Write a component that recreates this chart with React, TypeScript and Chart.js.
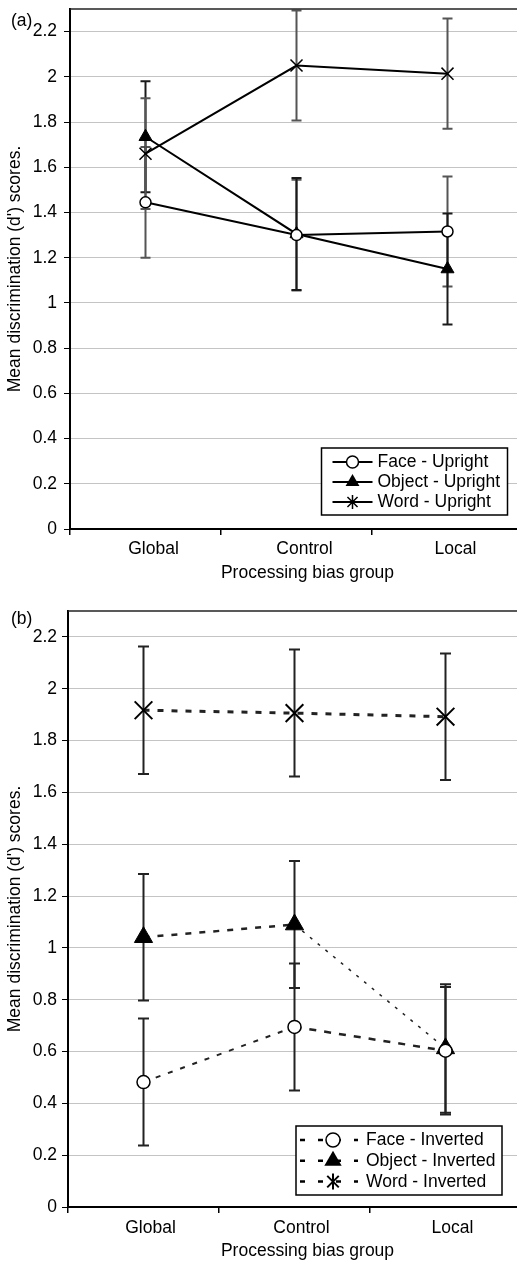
import React, { useEffect, useRef } from 'react';
import { Chart, registerables } from 'chart.js';

Chart.register(...registerables);

const FONT = '"Liberation Sans", Arial, Helvetica, sans-serif';
const FS = 17.5;

const categories = ['Global', 'Control', 'Local'];
const yTickValues = [0, 0.2, 0.4, 0.6, 0.8, 1, 1.2, 1.4, 1.6, 1.8, 2, 2.2];
const yTickLabels = ['0', '0.2', '0.4', '0.6', '0.8', '1', '1.2', '1.4', '1.6', '1.8', '2', '2.2'];
const yMin = 0;
const yMax = 2.3;
const xTitle = 'Processing bias group';
const yTitle = "Mean discrimination (d') scores.";

// Panel (a) – upright
const faceUpright = [1.445, 1.3, 1.316];
const faceUprightErr = [0.245, 0.245, 0.243];
const objectUpright = [1.735, 1.305, 1.15];
const objectUprightErr = [0.245, 0.248, 0.245];
const wordUpright = [1.66, 2.05, 2.014];
const wordUprightErr = [0.245, 0.243, 0.244];

// Panel (b) – inverted
const faceInverted = [0.482, 0.695, 0.603];
const faceInvertedErr = [0.245, 0.245, 0.246];
const objectInverted = [1.041, 1.09, 0.612];
const objectInvertedErr = [0.244, 0.245, 0.248];
const wordInverted = [1.917, 1.906, 1.892];
const wordInvertedErr = [0.246, 0.245, 0.244];

function drawMarker(ctx: CanvasRenderingContext2D, kind: string, x: number, y: number, r: number, lw: number) {
  ctx.save();
  ctx.setLineDash([]);
  ctx.lineWidth = lw;
  ctx.strokeStyle = '#000';
  if (kind === 'circle') {
    ctx.beginPath();
    ctx.arc(x, y, r, 0, Math.PI * 2);
    ctx.fillStyle = '#fff';
    ctx.fill();
    ctx.stroke();
  } else if (kind === 'triangle') {
    ctx.beginPath();
    ctx.moveTo(x, y - r);
    ctx.lineTo(x + r * 0.866, y + r * 0.5);
    ctx.lineTo(x - r * 0.866, y + r * 0.5);
    ctx.closePath();
    ctx.fillStyle = '#000';
    ctx.fill();
  } else {
    const d = r * 0.72;
    ctx.beginPath();
    ctx.moveTo(x - d, y - d);
    ctx.lineTo(x + d, y + d);
    ctx.moveTo(x + d, y - d);
    ctx.lineTo(x - d, y + d);
    ctx.moveTo(x, y - r);
    ctx.lineTo(x, y + r);
    ctx.stroke();
  }
  ctx.restore();
}

const errorBarPlugin = {
  id: 'errorBars',
  beforeDatasetsDraw(chart: any, _args: any, opts: any) {
    const { ctx } = chart;
    const ys = chart.scales.y;
    ctx.save();
    ctx.setLineDash([]);
    chart.data.datasets.forEach((ds: any, i: number) => {
      if (!ds.errors) return;
      const meta = chart.getDatasetMeta(i);
      ctx.strokeStyle = ds.errorColor || '#222';
      ctx.lineWidth = opts.lineWidth || 2;
      meta.data.forEach((pt: any, j: number) => {
        const v = ds.data[j];
        const e = ds.errors[j];
        const x = pt.x;
        const y1 = ys.getPixelForValue(v + e);
        const y2 = ys.getPixelForValue(v - e);
        const c = opts.cap || 5;
        ctx.beginPath();
        ctx.moveTo(x, y1);
        ctx.lineTo(x, y2);
        ctx.moveTo(x - c, y1);
        ctx.lineTo(x + c, y1);
        ctx.moveTo(x - c, y2);
        ctx.lineTo(x + c, y2);
        ctx.stroke();
      });
    });
    ctx.restore();
  },
};

const framePlugin = {
  id: 'frameExtras',
  afterDraw(chart: any, _args: any, opts: any) {
    const { ctx, chartArea } = chart;
    ctx.save();
    // top frame line
    ctx.strokeStyle = '#222';
    ctx.lineWidth = 1.5;
    ctx.setLineDash([]);
    ctx.beginPath();
    ctx.moveTo(chartArea.left, chartArea.top);
    ctx.lineTo(chartArea.right + 4, chartArea.top);
    ctx.stroke();
    // panel label
    ctx.fillStyle = '#000';
    ctx.font = `${FS}px ${FONT}`;
    ctx.textAlign = 'left';
    ctx.textBaseline = 'middle';
    ctx.fillText(opts.label, opts.labelX, opts.labelY);

    // x-axis title (centred on the full figure width, as in the source)
    ctx.textAlign = 'center';
    ctx.fillText(xTitle, (chartArea.left + chartArea.right) / 2 + opts.xTitleShift, chart.scales.x.bottom - 11.5);

    // legend box
    const L = opts.legend;
    const x0 = chartArea.right - L.right - L.width;
    const y0 = chartArea.bottom - L.bottom - L.height;
    ctx.fillStyle = '#fff';
    ctx.fillRect(x0, y0, L.width, L.height);
    ctx.strokeStyle = '#000';
    ctx.lineWidth = 1.5;
    ctx.strokeRect(x0, y0, L.width, L.height);
    chart.data.datasets.forEach((ds: any, i: number) => {
      const y = y0 + L.firstRow + i * L.rowGap;
      ctx.save();
      ctx.strokeStyle = '#000';
      ctx.lineWidth = L.lineWidth;
      ctx.setLineDash(L.dash);
      ctx.beginPath();
      ctx.moveTo(x0 + L.symStart, y);
      ctx.lineTo(x0 + L.symEnd, y);
      ctx.stroke();
      ctx.restore();
      const m = L.markers[i];
      drawMarker(ctx, m.kind, x0 + L.markerX, y, m.r, m.lw);
      ctx.fillStyle = '#000';
      ctx.font = `${FS}px ${FONT}`;
      ctx.textAlign = 'left';
      ctx.textBaseline = 'middle';
      ctx.fillText(ds.label, x0 + L.textX, y + 0.5);
    });
    ctx.restore();
  },
};

function makeConfig(p: any) {
  return {
    type: 'line',
    data: { labels: categories, datasets: p.datasets },
    plugins: [errorBarPlugin, framePlugin],
    options: {
      animation: false,
      responsive: false,
      maintainAspectRatio: false,
      devicePixelRatio: 1,
      layout: { autoPadding: false, padding: { top: p.padTop, right: p.padRight, left: 0, bottom: 0 } },
      plugins: {
        legend: { display: false },
        tooltip: { enabled: false },
        errorBars: { lineWidth: 2, cap: p.cap },
        frameExtras: {
          label: p.label,
          labelX: 11,
          labelY: p.labelY,
          legend: p.legend,
          xTitleShift: p.xTitleShift,
        },
      },
      scales: {
        x: {
          type: 'category',
          offset: true,
          grid: {
            display: true,
            offset: true,
            drawOnChartArea: false,
            drawTicks: true,
            tickLength: 6,
            color: '#000',
            lineWidth: 1.5,
          },
          border: { display: true, color: '#000', width: 2 },
          ticks: {
            color: '#000',
            font: { family: FONT, size: FS },
            padding: p.xTickPad,
            maxRotation: 0,
            labelOffset: p.xLabelOffset,
          },
          title: { display: false },
          afterFit(scale: any) {
            scale.height = p.xHeight;
            scale.paddingLeft = 0;
            scale.paddingRight = 0;
          },
        },
        y: {
          type: 'linear',
          min: yMin,
          max: yMax,
          grid: {
            color: '#c4c4c4',
            lineWidth: 1,
            tickColor: '#000',
            tickLength: 6,
            drawTicks: true,
          },
          border: { display: true, color: '#000', width: 2 },
          ticks: {
            color: '#000',
            font: { family: FONT, size: FS },
            padding: p.yTickPad,
            callback: (_v: any, i: number) => yTickLabels[i],
          },
          afterBuildTicks(scale: any) {
            scale.ticks = yTickValues.map((v) => ({ value: v }));
          },
          title: {
            display: true,
            text: yTitle,
            color: '#000',
            font: { family: FONT, size: FS },
            padding: { top: 5, bottom: 0 },
          },
          afterFit(scale: any) {
            scale.width = p.yWidth;
            scale.paddingTop = 0;
            scale.paddingBottom = 0;
          },
        },
      },
    },
  };
}

const configA = () =>
  makeConfig({
    padTop: 9,
    padRight: 2,
    yWidth: 70,
    xHeight: 56,
    xTickPad: 4,
    xLabelOffset: 8,
    xTitleShift: 11,
    yTickPad: 7,
    cap: 5,
    label: '(a)',
    labelY: 21,
    legend: {
      right: 15.5,
      bottom: 14,
      width: 186,
      height: 67,
      firstRow: 14,
      rowGap: 20,
      symStart: 11,
      symEnd: 51,
      markerX: 31,
      textX: 56,
      lineWidth: 2,
      dash: [],
      markers: [
        { kind: 'circle', r: 6, lw: 1.5 },
        { kind: 'triangle', r: 8, lw: 1.5 },
        { kind: 'star', r: 7, lw: 1.5 },
      ],
    },
    datasets: [
      {
        label: 'Face - Upright',
        data: faceUpright,
        errors: faceUprightErr,
        errorColor: '#555',
        borderColor: '#000',
        borderWidth: 2,
        pointStyle: 'circle',
        pointRadius: 5.5,
        pointBackgroundColor: '#fff',
        pointBorderColor: '#000',
        pointBorderWidth: 1.5,
        tension: 0,
      },
      {
        label: 'Object - Upright',
        data: objectUpright,
        errors: objectUprightErr,
        errorColor: '#1a1a1a',
        borderColor: '#000',
        borderWidth: 2,
        pointStyle: 'triangle',
        pointRadius: 7.5,
        pointBackgroundColor: '#000',
        pointBorderColor: '#000',
        pointBorderWidth: 1,
        tension: 0,
      },
      {
        label: 'Word - Upright',
        data: wordUpright,
        errors: wordUprightErr,
        errorColor: '#555',
        borderColor: '#000',
        borderWidth: 2,
        pointStyle: 'crossRot',
        pointRadius: 8.5,
        pointBackgroundColor: '#000',
        pointBorderColor: '#000',
        pointBorderWidth: 1.5,
        tension: 0,
      },
    ],
  });

const configB = () =>
  makeConfig({
    padTop: 11,
    padRight: 4,
    yWidth: 68,
    xHeight: 56,
    xTickPad: 5,
    xLabelOffset: 7,
    xTitleShift: 13,
    yTickPad: 5,
    cap: 5.5,
    label: '(b)',
    labelY: 19,
    legend: {
      right: 19,
      bottom: 12,
      width: 206,
      height: 69,
      firstRow: 14,
      rowGap: 20.8,
      symStart: 4,
      symEnd: 62,
      markerX: 37,
      textX: 70,
      lineWidth: 2.5,
      dash: [5, 13],
      markers: [
        { kind: 'circle', r: 7, lw: 1.5 },
        { kind: 'triangle', r: 10, lw: 1.5 },
        { kind: 'star', r: 8, lw: 2 },
      ],
    },
    datasets: [
      {
        label: 'Face - Inverted',
        data: faceInverted,
        errors: faceInvertedErr,
        errorColor: '#222',
        borderColor: '#222',
        borderWidth: 2,
        borderDash: [5, 8],
        segment: {
          borderDash: (ctx: any) => (ctx.p0DataIndex === 0 ? [5, 8] : [7, 8]),
          borderWidth: (ctx: any) => (ctx.p0DataIndex === 0 ? 2 : 2.5),
        },
        pointStyle: 'circle',
        pointRadius: 6.5,
        pointBackgroundColor: '#fff',
        pointBorderColor: '#000',
        pointBorderWidth: 1.5,
        tension: 0,
      },
      {
        label: 'Object - Inverted',
        data: objectInverted,
        errors: objectInvertedErr,
        errorColor: '#222',
        borderColor: '#222',
        borderWidth: 2.5,
        borderDash: [6, 8],
        segment: {
          borderDash: (ctx: any) => (ctx.p0DataIndex === 0 ? [6, 8] : [3, 7]),
          borderWidth: (ctx: any) => (ctx.p0DataIndex === 0 ? 2.5 : 1.5),
        },
        pointStyle: 'triangle',
        pointRadius: 10.5,
        pointBackgroundColor: '#000',
        pointBorderColor: '#000',
        pointBorderWidth: 1,
        tension: 0,
      },
      {
        label: 'Word - Inverted',
        data: wordInverted,
        errors: wordInvertedErr,
        errorColor: '#222',
        borderColor: '#222',
        borderWidth: 3,
        borderDash: [6, 8],
        pointStyle: 'crossRot',
        pointRadius: 12.5,
        pointBackgroundColor: '#000',
        pointBorderColor: '#000',
        pointBorderWidth: 2,
        tension: 0,
      },
    ],
  });

export default function App() {
  const refA = useRef<HTMLCanvasElement | null>(null);
  const refB = useRef<HTMLCanvasElement | null>(null);

  useEffect(() => {
    const a = new Chart(refA.current as HTMLCanvasElement, configA() as any);
    const b = new Chart(refB.current as HTMLCanvasElement, configB() as any);
    return () => {
      a.destroy();
      b.destroy();
    };
  }, []);

  return (
    <div
      style={{
        position: 'fixed',
        left: 0,
        top: 0,
        width: 517,
        height: 1262,
        overflow: 'hidden',
        background: '#fff',
      }}
    >
      <canvas
        ref={refA}
        width={525}
        height={585}
        style={{ position: 'absolute', left: 0, top: 0, width: 525, height: 585 }}
      />
      <canvas
        ref={refB}
        width={525}
        height={663}
        style={{ position: 'absolute', left: 0, top: 600, width: 525, height: 663 }}
      />
    </div>
  );
}
